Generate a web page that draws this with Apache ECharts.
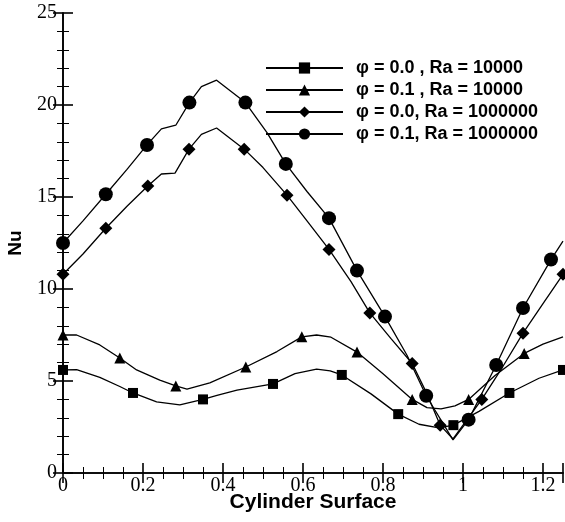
<!DOCTYPE html>
<html>
<head>
<meta charset="utf-8">
<script src="https://cdn.jsdelivr.net/npm/echarts@6/dist/echarts.min.js"></script>
<style>
  html, body { margin: 0; padding: 0; background: #fff; }
  #chart { width: 565px; height: 522px; }
</style>
</head>
<body>
<div id="chart"></div>
<script>
// Series names
const seriesNames = [
  'φ = 0.0 , Ra = 10000',
  'φ = 0.1 , Ra = 10000',
  'φ = 0.0, Ra = 1000000',
  'φ = 0.1, Ra = 1000000'
];

// Nu along the cylinder surface: marked points and the curve points between them
const sqMarks = [[0,5.6],[0.175,4.35],[0.35,4.0],[0.525,4.84],[0.697,5.33],[0.838,3.2],[0.976,2.6],[1.116,4.35],[1.25,5.6]];
const sqCurve = [[0.034,5.62],[0.092,5.2],[0.142,4.7],[0.234,3.87],[0.292,3.7],[0.385,4.22],[0.435,4.5],[0.58,5.4],[0.634,5.65],[0.668,5.55],[0.77,4.3],[0.89,2.65],[0.94,2.45],[1.04,3.35],[1.19,5.15]];

const triMarks = [[0,7.5],[0.142,6.25],[0.282,4.73],[0.457,5.76],[0.597,7.4],[0.735,6.57],[0.873,4.0],[1.014,4.0],[1.153,6.5]];
const triCurve = [[0.034,7.5],[0.092,6.96],[0.184,5.6],[0.242,5.05],[0.31,4.56],[0.367,4.9],[0.535,6.6],[0.634,7.5],[0.67,7.38],[0.8,5.4],[0.91,3.55],[0.945,3.48],[0.98,3.65],[1.08,5.3],[1.2,7.0],[1.25,7.4]];

const diaMarks = [[0,10.8],[0.107,13.3],[0.212,15.6],[0.315,17.6],[0.453,17.6],[0.56,15.1],[0.665,12.15],[0.767,8.7],[0.873,5.95],[0.943,2.6],[1.047,4.0],[1.15,7.6],[1.25,10.8]];
const diaCurve = [[0.05,11.9],[0.16,14.5],[0.246,16.25],[0.28,16.3],[0.346,18.4],[0.384,18.75],[0.5,16.6],[0.61,13.7],[0.72,10.4],[0.82,7.3],[0.91,4.3],[0.975,1.85],[1.1,5.8],[1.2,9.2]];

const cirMarks = [[0,12.5],[0.107,15.15],[0.21,17.83],[0.316,20.13],[0.456,20.13],[0.557,16.8],[0.665,13.85],[0.735,11.0],[0.805,8.5],[0.908,4.2],[1.014,2.9],[1.083,5.87],[1.15,8.97],[1.22,11.6]];
const cirCurve = [[0.05,13.7],[0.16,16.5],[0.246,18.7],[0.282,18.9],[0.346,21.0],[0.384,21.35],[0.51,18.5],[0.61,15.3],[0.86,6.4],[0.975,1.8],[1.25,12.6]];

// Axis settings
const xRange = [0, 1.25], xStep = 0.2;
const yRange = [0, 25], yStep = 5;

// Merge marked and plain points into one sorted line
function buildData(marks, curve) {
  const pts = marks.map(p => ({ value: p, mark: true }))
    .concat(curve.map(p => ({ value: p, mark: false })));
  pts.sort((a, b) => a.value[0] - b.value[0]);
  return pts.map(p => p.mark ? { value: p.value } : { value: p.value, symbol: 'none' });
}

const serif = 'Liberation Serif';
const sans = 'Liberation Sans';

function lineSeries(name, marks, curve, symbol, size) {
  return {
    name: name,
    type: 'line',
    data: buildData(marks, curve),
    symbol: symbol,
    symbolSize: size,
    showSymbol: true,
    smooth: false,
    lineStyle: { color: '#000', width: 1.3 },
    itemStyle: { color: '#000', borderWidth: 0 },
    emphasis: { disabled: true },
    animation: false,
    z: 3
  };
}

const axisLine = { show: true, lineStyle: { color: '#000', width: 1.6 } };
const tick = { show: true, inside: true, length: 10, lineStyle: { color: '#000', width: 1.6 } };
// minor ticks drawn toward the plot area
const minorTick = { show: true, length: -6, lineStyle: { color: '#000', width: 1 } };

const chart = echarts.init(document.getElementById('chart'), null, { renderer: 'canvas' });
chart.setOption({
  backgroundColor: '#fff',
  animation: false,
  grid: { left: 63, right: 2, top: 13, bottom: 49, containLabel: false, outerBoundsMode: 'none' },
  legend: {
    orient: 'vertical',
    left: 260,
    top: 54,
    itemWidth: 77,
    itemHeight: 14,
    itemGap: 4,
    data: seriesNames,
    textStyle: { fontFamily: sans, fontWeight: 'bold', fontSize: 18, color: '#000', padding: [0, 0, 0, 8] }
  },
  xAxis: [
    {
      type: 'value', min: xRange[0], max: xRange[1], interval: xStep,
      position: 'bottom',
      name: 'Cylinder Surface', nameLocation: 'middle', nameGap: 19, nameMoveOverlap: false,
      nameTextStyle: { fontFamily: sans, fontWeight: 'bold', fontSize: 21, color: '#000' },
      axisLine: axisLine, axisTick: tick,
      minorTick: Object.assign({ splitNumber: 4 }, minorTick),
      splitLine: { show: false },
      axisLabel: { fontFamily: serif, fontSize: 20, color: '#000', margin: 3, showMaxLabel: false }
    },
    {
      type: 'value', min: xRange[0], max: xRange[1], interval: xStep,
      position: 'top',
      axisLine: axisLine, axisTick: tick,
      minorTick: Object.assign({ splitNumber: 4 }, minorTick),
      splitLine: { show: false },
      axisLabel: { show: false }
    }
  ],
  yAxis: [
    {
      type: 'value', min: yRange[0], max: yRange[1], interval: yStep,
      position: 'left',
      name: 'Nu', nameLocation: 'middle', nameGap: 38, nameMoveOverlap: false,
      nameTextStyle: { fontFamily: sans, fontWeight: 'bold', fontSize: 19, color: '#000' },
      axisLine: axisLine, axisTick: tick,
      minorTick: Object.assign({ splitNumber: 5 }, minorTick),
      splitLine: { show: false },
      axisLabel: { fontFamily: serif, fontSize: 20, color: '#000', margin: 6 }
    },
    {
      type: 'value', min: yRange[0], max: yRange[1], interval: yStep,
      position: 'right',
      axisLine: axisLine, axisTick: tick,
      minorTick: Object.assign({ splitNumber: 5 }, minorTick),
      splitLine: { show: false },
      axisLabel: { show: false }
    }
  ],
  series: [
    lineSeries(seriesNames[0], sqMarks, sqCurve, 'rect', 10),
    lineSeries(seriesNames[1], triMarks, triCurve, 'triangle', 11),
    lineSeries(seriesNames[2], diaMarks, diaCurve, 'diamond', 13),
    lineSeries(seriesNames[3], cirMarks, cirCurve, 'circle', 14)
  ]
});
</script>
</body>
</html>
